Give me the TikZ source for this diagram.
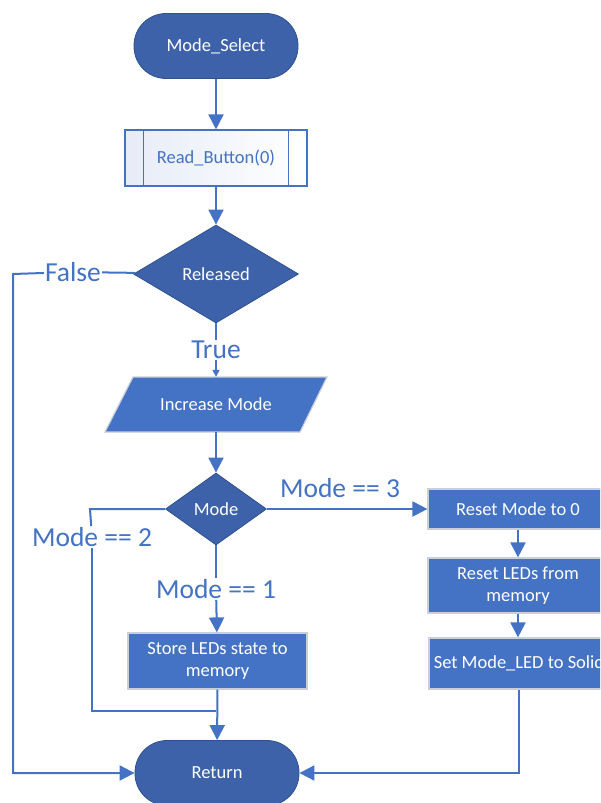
\documentclass[tikz,border=0pt]{standalone}
\usepackage{fontspec}
\setmainfont{Carlito}
\usetikzlibrary{arrows.meta,shapes.geometric}
\definecolor{darkfill}{HTML}{3D62A9}
\definecolor{darkedge}{HTML}{2F528F}
\definecolor{midfill}{HTML}{4472C4}
\definecolor{lightedge}{HTML}{C9CED8}
\definecolor{flow}{HTML}{4472C4}
\definecolor{tint}{HTML}{E6ECF7}
\tikzset{
  x=1pt, y=-1pt,
  every node/.style={font=\fontsize{18.5}{22}\selectfont, align=center, inner sep=0pt},
  terminal/.style={rectangle, rounded corners=32pt, fill=darkfill, draw=darkedge,
    line width=0.8pt, text=white, minimum width=164pt, minimum height=65pt},
  decision/.style={diamond, fill=darkfill, draw=darkedge, line width=0.8pt, text=white},
  process/.style={rectangle, fill=midfill, draw=lightedge, line width=1.2pt, text=white},
  subproc/.style={rectangle, left color=tint, right color=white, draw=flow,
    line width=1.2pt, text=flow, minimum width=182pt, minimum height=56pt},
  label/.style={font=\fontsize{27.5}{30}\selectfont, text=flow, fill=white, inner sep=1pt},
  link/.style={draw=flow, line width=2pt},
  arr/.style={link, -{Triangle[width=15pt,length=15pt]}},
  smallarr/.style={link, -{Triangle[width=7pt,length=7pt]}},
}
\begin{document}
\begin{tikzpicture}
\useasboundingbox (0,0) rectangle (600,803);
\clip (0,0) rectangle (600,803);

% main column
\node[terminal] (start) at (216,46) {Mode\_Select};
\node[subproc] (read) at (216,158) {Read\_Button(0)};
\draw[flow, line width=1.2pt] ([xshift=19pt]read.north west) -- ([xshift=19pt]read.south west)
  ([xshift=-19pt]read.north east) -- ([xshift=-19pt]read.south east);
\node[decision, minimum width=165pt, minimum height=98pt, aspect=1.68] (rel) at (216,274) {Released};

% parallelogram input block
\fill[midfill, draw=lightedge, line width=1.2pt] (133,377) -- (327,377) -- (300,432) -- (105,432) -- cycle;
\node[minimum width=195pt, minimum height=55pt, text=white] (inc) at (216,404.5) {Increase Mode};

\node[decision, minimum width=101pt, minimum height=72pt, aspect=1.4] (mode) at (216,509) {Mode};
\node[process, minimum width=179pt, minimum height=56pt] (store) at (217.5,661) {Store LEDs state to\\memory};
\node[terminal] (ret) at (217,773) {Return};

% right column
\node[process, minimum width=180pt, minimum height=40pt] (rst) at (518,509) {Reset Mode to 0};
\node[process, minimum width=180pt, minimum height=55pt] (leds) at (518,585.5) {Reset LEDs from\\memory};
\node[process, minimum width=180pt, minimum height=51pt] (solid) at (519,663.5) {Set Mode\_LED to Solid};

% branch labels
\node[label] (lf) at (73,272) {False};
\node[label] (lt) at (216,350) {True};
\node[label] (l1) at (216,589) {Mode == 1};
\node[label] (l2) at (92,537) {Mode == 2};
\node[label, fill=none] (l3) at (340,488) {Mode == 3};

\coordinate (fcorner) at (13,274);
\coordinate (mcorner) at (90,509);
\coordinate (join) at (216,711);

% connectors
\draw[arr] (start) -- (read);
\draw[arr] (read) -- (rel);
\draw[link] (rel) -- (lf);
\draw[arr] (lf) -- (fcorner) |- (ret);
\draw[link] (rel) -- (lt);
\draw[smallarr] (lt) -- (inc);
\draw[arr] (inc) -- (mode);
\draw[link] (mode) -- (l1);
\draw[arr] (l1) -- (store);
\draw[arr] (store) -- (ret);
\draw[link] (mode.west) -- (mcorner) -- (l2);
\draw[link] (l2) |- (join);
\draw[arr] (mode.east) -- (rst);
\draw[arr] (rst.south -| 518,0) -- (leds);
\draw[arr] (leds) -- (solid.north -| leds);
\draw[arr] (solid) |- (ret);
\end{tikzpicture}
\end{document}
